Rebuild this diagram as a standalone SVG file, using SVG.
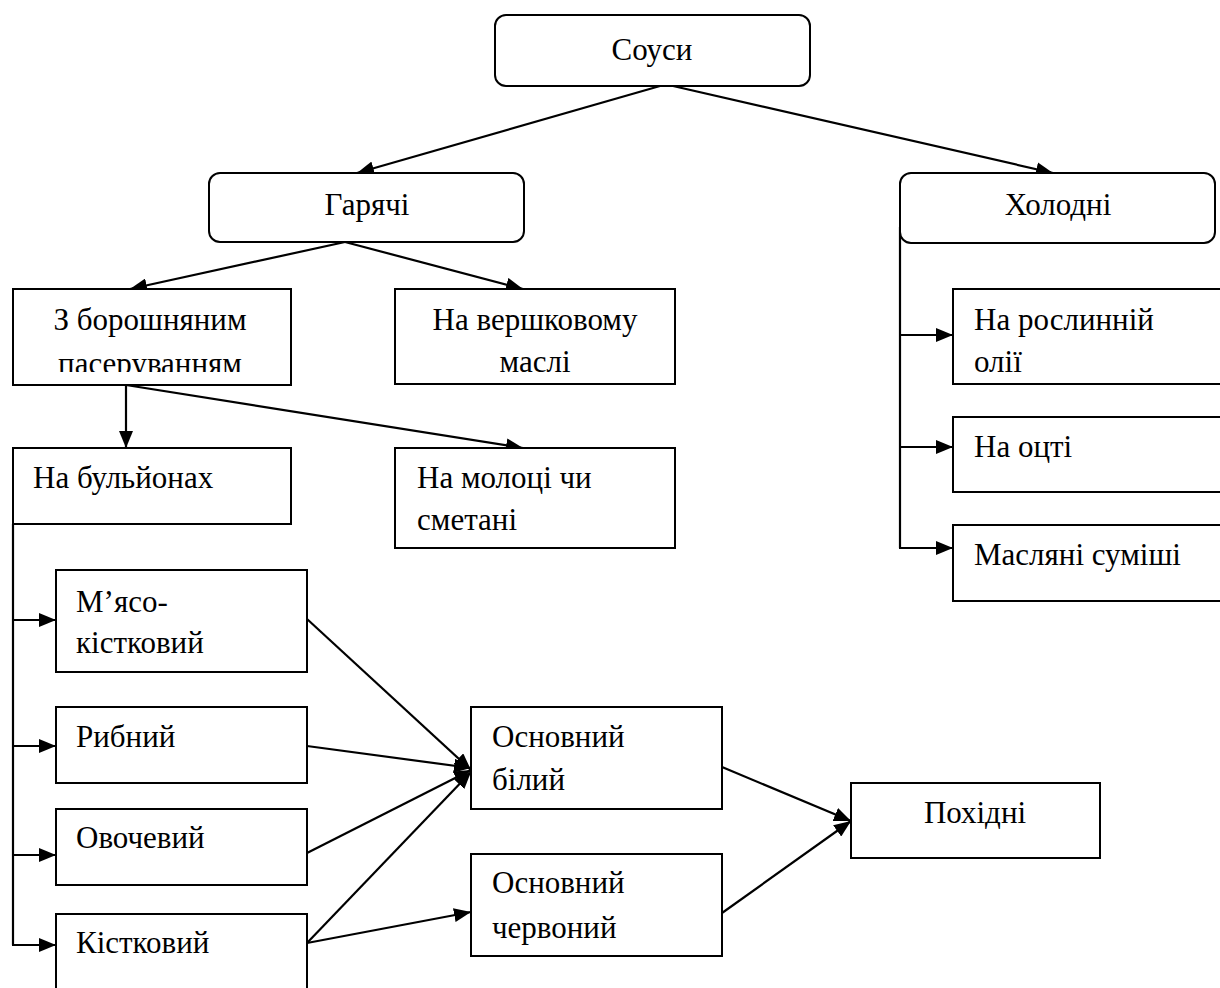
<svg xmlns="http://www.w3.org/2000/svg" width="1220" height="988" viewBox="0 0 1220 988">
<style>
.box{fill:#fff;stroke:#000;stroke-width:2}
.t{font-size:31px;fill:#000}
.c{text-anchor:middle}
.ln{fill:none;stroke:#000;stroke-width:2.2}
</style>
<defs>
<marker id="ah" markerWidth="17" markerHeight="14" refX="17" refY="7" orient="auto" markerUnits="userSpaceOnUse">
<path d="M0,0 L17,7 L0,14 Z" fill="#000"/>
</marker>
<clipPath id="clipZ"><rect x="0" y="0" width="1220" height="372"/></clipPath>
</defs>
<rect width="1220" height="988" fill="#fff"/>
<g id="connectors">
<line class="ln" x1="660" y1="86" x2="357" y2="173" marker-end="url(#ah)"/>
<line class="ln" x1="673" y1="86" x2="1053" y2="173" marker-end="url(#ah)"/>
<line class="ln" x1="345" y1="242" x2="130" y2="289" marker-end="url(#ah)"/>
<line class="ln" x1="345" y1="242" x2="523" y2="289" marker-end="url(#ah)"/>
<line class="ln" x1="126" y1="385" x2="126" y2="448" marker-end="url(#ah)"/>
<line class="ln" x1="126" y1="385" x2="523" y2="448" marker-end="url(#ah)"/>
<polyline class="ln" points="900,227 900,548"/>
<line class="ln" x1="900" y1="335" x2="953" y2="335" marker-end="url(#ah)"/>
<line class="ln" x1="900" y1="447" x2="953" y2="447" marker-end="url(#ah)"/>
<line class="ln" x1="899" y1="548" x2="953" y2="548" marker-end="url(#ah)"/>
<polyline class="ln" points="13,524 13,945"/>
<line class="ln" x1="13" y1="620" x2="56" y2="620" marker-end="url(#ah)"/>
<line class="ln" x1="13" y1="746" x2="56" y2="746" marker-end="url(#ah)"/>
<line class="ln" x1="13" y1="855" x2="56" y2="855" marker-end="url(#ah)"/>
<line class="ln" x1="12" y1="945" x2="56" y2="945" marker-end="url(#ah)"/>
<line class="ln" x1="307" y1="619" x2="471" y2="770" marker-end="url(#ah)"/>
<line class="ln" x1="307" y1="746" x2="471" y2="768" marker-end="url(#ah)"/>
<line class="ln" x1="307" y1="853" x2="471" y2="770" marker-end="url(#ah)"/>
<line class="ln" x1="307" y1="943" x2="471" y2="772" marker-end="url(#ah)"/>
<line class="ln" x1="307" y1="943" x2="471" y2="912" marker-end="url(#ah)"/>
<line class="ln" x1="722" y1="767" x2="851" y2="821" marker-end="url(#ah)"/>
<line class="ln" x1="722" y1="913" x2="851" y2="821" marker-end="url(#ah)"/>
</g>
<g id="nodes" font-family="Liberation Serif, Times New Roman, serif">
<g id="sousy"><rect class="box" x="495" y="15" width="315" height="71" rx="11"/><text class="t c" x="652" y="60">Соуси</text></g>
<g id="hariachi"><rect class="box" x="209" y="173" width="315" height="69" rx="11"/><text class="t c" x="367" y="215">Гарячі</text></g>
<g id="kholodni"><rect class="box" x="900" y="173" width="315" height="70" rx="11"/><text class="t c" x="1058" y="215">Холодні</text></g>
<g id="boroshno"><rect class="box" x="13" y="289" width="278" height="96"/><g clip-path="url(#clipZ)"><text class="t c" x="150" y="330">З борошняним</text><text class="t c" x="150" y="374">пасеруванням</text></g></g>
<g id="vershkove"><rect class="box" x="395" y="289" width="280" height="95"/><text class="t c" x="535" y="330">На вершковому</text><text class="t c" x="535" y="372">маслі</text></g>
<g id="bulion"><rect class="box" x="13" y="448" width="278" height="76"/><text class="t" x="33" y="488">На бульйонах</text></g>
<g id="moloko"><rect class="box" x="395" y="448" width="280" height="100"/><text class="t" x="417" y="488">На молоці чи</text><text class="t" x="417" y="530">сметані</text></g>
<g id="roslynna"><rect class="box" x="953" y="289" width="280" height="95"/><text class="t" x="974" y="330">На рослинній</text><text class="t" x="974" y="372">олії</text></g>
<g id="otset"><rect class="box" x="953" y="417" width="280" height="75"/><text class="t" x="974" y="457">На оцті</text></g>
<g id="masliani"><rect class="box" x="953" y="525" width="280" height="76"/><text class="t" x="974" y="565">Масляні суміші</text></g>
<g id="miaso"><rect class="box" x="56" y="570" width="251" height="102"/><text class="t" x="76" y="612">М’ясо-</text><text class="t" x="76" y="653">кістковий</text></g>
<g id="rybnyi"><rect class="box" x="56" y="707" width="251" height="76"/><text class="t" x="76" y="747">Рибний</text></g>
<g id="ovochevyi"><rect class="box" x="56" y="809" width="251" height="76"/><text class="t" x="76" y="848">Овочевий</text></g>
<g id="kistkovyi"><rect class="box" x="56" y="914" width="251" height="100"/><text class="t" x="76" y="953">Кістковий</text></g>
<g id="bilyi"><rect class="box" x="471" y="707" width="251" height="102"/><text class="t" x="492" y="747">Основний</text><text class="t" x="492" y="790">білий</text></g>
<g id="chervonyi"><rect class="box" x="471" y="854" width="251" height="102"/><text class="t" x="492" y="893">Основний</text><text class="t" x="492" y="938">червоний</text></g>
<g id="pokhidni"><rect class="box" x="851" y="783" width="249" height="75"/><text class="t c" x="975" y="823">Похідні</text></g>
</g>
</svg>
